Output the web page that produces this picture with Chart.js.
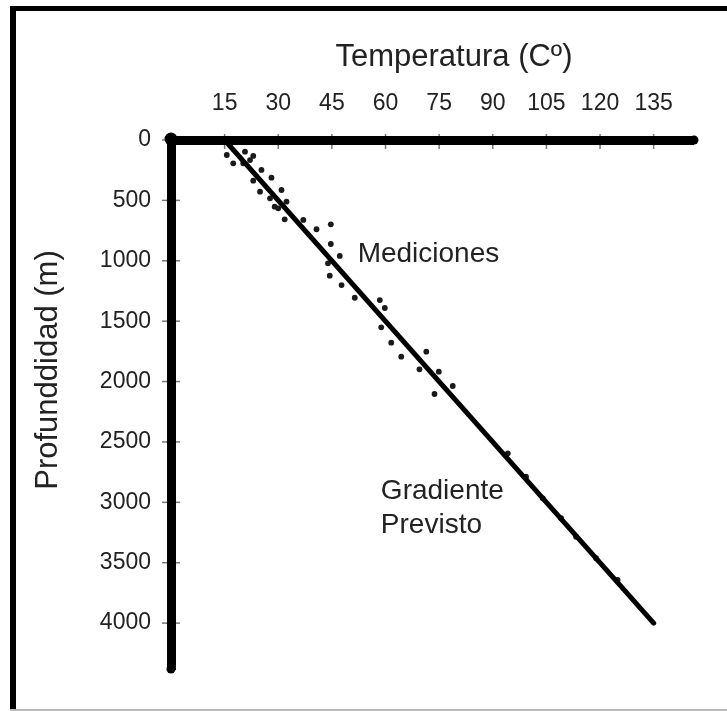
<!DOCTYPE html>
<html><head><meta charset="utf-8">
<script src="https://cdn.jsdelivr.net/npm/chart.js@4.4.1/dist/chart.umd.min.js"></script>
<style>
html,body{margin:0;padding:0;background:#fff;}
#wrap{position:relative;width:727px;height:711px;overflow:hidden;background:#fff;}
#frame{position:absolute;left:10px;top:6px;width:717px;height:705px;border-top:5px solid #000;border-left:6px solid #000;box-sizing:border-box;}
#bottomline{position:absolute;left:10px;top:709px;width:717px;height:2px;background:#bbb;}
canvas{position:absolute;left:0;top:0;}
</style></head><body>
<div id="wrap"><div id="frame"></div><div id="bottomline"></div><canvas id="c" width="727" height="711"></canvas></div>
<script>
const xTitle = 'Temperatura (Cº)';
const yTitle = 'Profunddidad (m)';
const xTickValues = [15, 30, 45, 60, 75, 90, 105, 120, 135];
const yTickValues = [0, 500, 1000, 1500, 2000, 2500, 3000, 3500, 4000];
const measTemp  = [15.6, 17.4, 20.7, 23.0, 20.2, 22.1, 25.3, 28.1, 23.0, 24.9, 27.7, 30.9, 29.0, 30.0, 32.3, 31.8, 37.0, 40.7, 44.7, 44.7, 47.2, 43.9, 44.4, 47.7, 51.4, 58.4, 59.8, 58.8, 61.6, 64.4, 71.4, 69.5, 74.9, 78.8, 73.7, 94.2, 99.3, 104.0, 109.1, 113.3, 118.9, 124.9];
const measDepth = [124, 193, 97, 132, 193, 166, 248, 312, 337, 428, 483, 414, 552, 566, 511, 657, 662, 739, 698, 861, 960, 1021, 1123, 1201, 1306, 1325, 1391, 1551, 1678, 1794, 1753, 1899, 1918, 2037, 2103, 2594, 2788, 2967, 3132, 3285, 3463, 3643];
const gradTemp  = [15, 135];
const gradDepth = [0, 4000];
const labelMeas = 'Mediciones';
const labelGrad = ['Gradiente', 'Previsto'];

const FONT = "'Liberation Sans', Arial, Helvetica, sans-serif";
const TXT = '#222';

const decor = {
  id: 'decor',
  beforeDraw(chart) {
    const ctx = chart.ctx, xs = chart.scales.x, ys = chart.scales.y, a = chart.chartArea;
    ctx.save();
    ctx.strokeStyle = '#777';
    ctx.lineWidth = 1.5;
    xs.ticks.forEach(t => {
      const px = xs.getPixelForValue(t.value);
      ctx.beginPath(); ctx.moveTo(px, a.top - 6); ctx.lineTo(px, a.top + 9); ctx.stroke();
    });
    ys.ticks.forEach(t => {
      const py = ys.getPixelForValue(t.value);
      ctx.beginPath(); ctx.moveTo(a.left - 9, py); ctx.lineTo(a.left + 9, py); ctx.stroke();
    });
    ctx.restore();
  },
  afterDraw(chart) {
    const ctx = chart.ctx, xs = chart.scales.x, ys = chart.scales.y, a = chart.chartArea;
    ctx.save();
    ctx.fillStyle = '#000';
    ctx.beginPath(); ctx.arc(a.left, a.top - 1, 6.5, 0, Math.PI * 2); ctx.fill();
    ctx.beginPath(); ctx.arc(a.right + 1, a.top, 4.5, 0, Math.PI * 2); ctx.fill();
    ctx.beginPath(); ctx.arc(a.left, a.bottom, 4.5, 0, Math.PI * 2); ctx.fill();
    ctx.fillStyle = TXT;
    ctx.font = '31px ' + FONT;
    ctx.textAlign = 'center';
    ctx.textBaseline = 'alphabetic';
    ctx.fillText(xTitle, 454, 66);
    ctx.save();
    ctx.translate(57, 370);
    ctx.rotate(-Math.PI / 2);
    ctx.fillText(yTitle, 0, 0);
    ctx.restore();
    ctx.font = '28px ' + FONT;
    ctx.textAlign = 'left';
    ctx.fillText(labelMeas, xs.getPixelForValue(52.2), ys.getPixelForValue(1010));
    ctx.fillText(labelGrad[0], xs.getPixelForValue(58.7), ys.getPixelForValue(2972));
    ctx.fillText(labelGrad[1], xs.getPixelForValue(58.7), ys.getPixelForValue(3253));
    ctx.restore();
  }
};

const tickFont = { family: FONT, size: 23 };

new Chart(document.getElementById('c'), {
  type: 'scatter',
  data: {
    datasets: [
      {
        label: labelGrad.join(' '),
        data: gradTemp.map((t, i) => ({ x: t, y: gradDepth[i] })),
        showLine: true, borderColor: '#000', borderWidth: 5, pointRadius: 0,
        borderCapStyle: 'round', order: 0
      },
      {
        label: labelMeas,
        data: measTemp.map((t, i) => ({ x: t, y: measDepth[i] })),
        showLine: false, pointRadius: 2.9, pointBackgroundColor: '#1a1a1a',
        pointBorderWidth: 0, order: 1
      }
    ]
  },
  options: {
    responsive: false, animation: false, devicePixelRatio: 1,
    layout: { padding: { left: 0, top: 0, right: 34, bottom: 42 } },
    plugins: { legend: { display: false }, tooltip: { enabled: false } },
    scales: {
      x: {
        type: 'linear', position: 'top', min: 0, max: 146,
        afterFit(s) { s.height = 140; },
        afterBuildTicks(s) { s.ticks = xTickValues.map(v => ({ value: v })); },
        ticks: { font: tickFont, color: TXT, padding: 23, maxRotation: 0, autoSkip: false, callback: v => String(v) },
        grid: { display: true, drawOnChartArea: false, drawTicks: false },
        border: { display: true, width: 9, color: '#000' }
      },
      y: {
        type: 'linear', reverse: true, min: 0, max: 4380,
        afterFit(s) { s.width = 171; },
        afterBuildTicks(s) { s.ticks = yTickValues.map(v => ({ value: v })); },
        ticks: { font: tickFont, color: TXT, padding: 20, autoSkip: false, callback: v => String(v) },
        grid: { display: true, drawOnChartArea: false, drawTicks: false },
        border: { display: true, width: 9, color: '#000' }
      }
    }
  },
  plugins: [decor]
});
</script>
</body></html>
